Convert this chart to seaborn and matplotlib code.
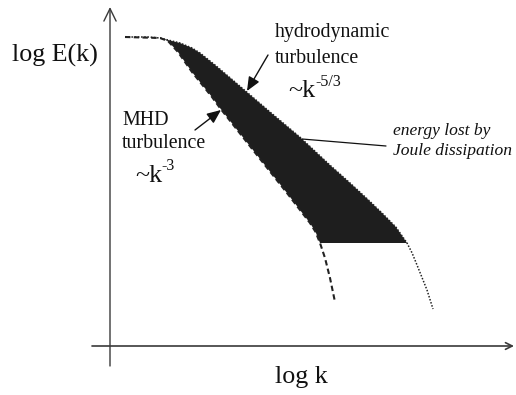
import numpy as np
import pandas as pd
import matplotlib
matplotlib.use("Agg")
import matplotlib.pyplot as plt
import seaborn as sns

# ---- data (schematic log k / log E values) ----
hydro_logk = [0.375, 0.95, 1.25, 1.45, 1.75, 2.05, 2.25, 2.625, 3.125,
              4.0, 4.75, 5.5, 6.0, 6.45, 6.825, 7.15, 7.425, 7.55, 7.675, 7.925, 8.075]
hydro_logE = [7.725, 7.725, 7.70, 7.65, 7.575, 7.45, 7.325, 7.025, 6.60,
              5.85, 5.22, 4.52, 4.075, 3.66, 3.30, 2.97, 2.575, 2.33, 2.025, 1.40, 0.925]

mhd_logk = [0.375, 1.25, 1.45, 1.70, 2.05, 2.55, 2.75, 3.575, 4.425, 5.0,
            5.14, 5.25, 5.375, 5.50, 5.625]
mhd_logE = [7.725, 7.70, 7.625, 7.35, 6.85, 6.225, 5.95, 4.90, 3.825, 3.075,
            2.85, 2.575, 2.20, 1.70, 1.10]

cutoff_logE = 2.575          # lower edge of the shaded "lost energy" band
band_start_logk = 1.25

# ---- figure ----
sns.set_style("white")
plt.rcParams["font.family"] = ["Liberation Serif", "DejaVu Serif"]

W, H = 516, 395
fig = plt.figure(figsize=(W / 100, H / 100), dpi=100)
ax = fig.add_axes([0, 0, 1, 1])
# axes origin at pixel (110, 346); 40 px per unit
X0, Y0, S = 110, 346, 40.0
ax.set_xlim(-X0 / S, (W - X0) / S)
ax.set_ylim((Y0 - H) / S, Y0 / S)
ax.axis("off")


def P(px, py):
    return ((px - X0) / S, (Y0 - py) / S)


hk = np.array(hydro_logk); hE = np.array(hydro_logE)
mk = np.array(mhd_logk); mE = np.array(mhd_logE)

# shaded region between the two spectra down to the cutoff
up = (hk >= band_start_logk) & (hE >= cutoff_logE)
lo = (mk >= band_start_logk) & (mE >= cutoff_logE)
poly_x = np.concatenate([hk[up], mk[lo][::-1]])
poly_y = np.concatenate([hE[up], mE[lo][::-1]])
ax.fill(poly_x, poly_y, color="#1e1e1e", lw=0, zorder=2)

df_h = pd.DataFrame({"logk": hydro_logk, "logE": hydro_logE})
df_m = pd.DataFrame({"logk": mhd_logk, "logE": mhd_logE})
sns.lineplot(data=df_h, x="logk", y="logE", ax=ax, color="#222222",
             lw=1.1, linestyle=(0, (1, 1.1)), zorder=3, sort=False)
sns.lineplot(data=df_m, x="logk", y="logE", ax=ax, color="#222222",
             lw=1.5, linestyle=(0, (2.6, 1.6)), zorder=3, sort=False)

# coordinate axes with open arrow heads
axis_col = "#3a3a3a"
ax.annotate("", xy=P(110, 7), xytext=P(110, 366),
            arrowprops=dict(arrowstyle="->,head_length=0.45,head_width=0.22",
                            mutation_scale=20, color=axis_col, lw=1.0,
                            shrinkA=0, shrinkB=0))
ax.annotate("", xy=P(514, 346), xytext=P(92, 346),
            arrowprops=dict(arrowstyle="->,head_length=0.4,head_width=0.2",
                            mutation_scale=12, color=axis_col, lw=1.2,
                            shrinkA=0, shrinkB=0))

# axis labels
ax.text(*P(12, 62), "log E(k)", fontsize=18.7, va="baseline", ha="left", color="#111111")
ax.text(*P(275, 383), "log k", fontsize=18.7, va="baseline", ha="left", color="#111111")

# hydrodynamic label
ax.text(*P(275, 37), "hydrodynamic", fontsize=14.4, va="baseline", color="#111111")
ax.text(*P(275, 63), "turbulence", fontsize=14.4, va="baseline", color="#111111")
ax.text(*P(288, 97), "~k", fontsize=18.7, va="baseline", color="#111111")
ax.text(*P(315, 86), "-5/3", fontsize=11.5, va="baseline", color="#111111")

# MHD label
ax.text(*P(122, 125), "MHD", fontsize=14.4, va="baseline", color="#111111")
ax.text(*P(122, 148), "turbulence", fontsize=14.4, va="baseline", color="#111111")
ax.text(*P(135, 182), "~k", fontsize=18.7, va="baseline", color="#111111")
ax.text(*P(161, 170), "-3", fontsize=11.5, va="baseline", color="#111111")

# Joule dissipation label
ax.text(*P(393, 135), "energy lost by", fontsize=12.6, style="italic",
        va="baseline", color="#111111")
ax.text(*P(393, 155), "Joule dissipation", fontsize=12.6, style="italic",
        va="baseline", color="#111111")

# pointer arrows
ax.annotate("", xy=P(247, 91), xytext=P(268, 55),
            arrowprops=dict(arrowstyle="-|>,head_length=0.7,head_width=0.3",
                            mutation_scale=12, color="#111111", lw=1.0,
                            shrinkA=0, shrinkB=0))
ax.annotate("", xy=P(221, 110), xytext=P(195, 130),
            arrowprops=dict(arrowstyle="-|>,head_length=0.7,head_width=0.3",
                            mutation_scale=12, color="#111111", lw=1.0,
                            shrinkA=0, shrinkB=0))
ax.annotate("", xy=P(302, 139), xytext=P(386, 146),
            arrowprops=dict(arrowstyle="-", color="#111111", lw=0.9,
                            shrinkA=0, shrinkB=0))

fig.savefig("out.png", dpi=100)
